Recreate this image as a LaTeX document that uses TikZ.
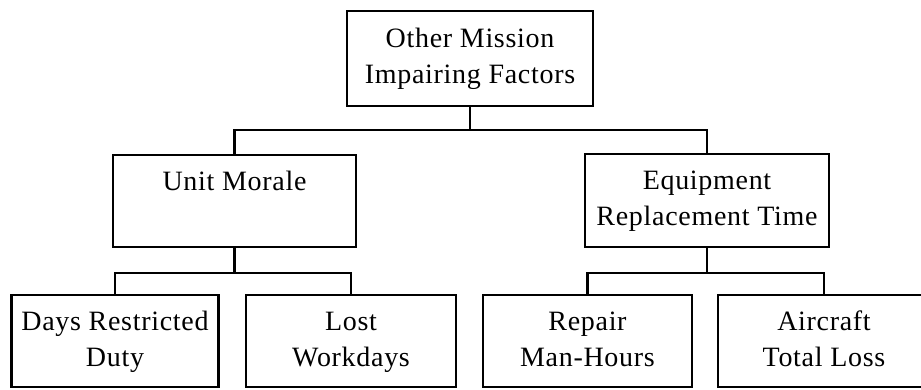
\documentclass[tikz,border=0pt]{standalone}
\usepackage{fontspec}
\setmainfont{Liberation Serif}[LetterSpace=2.5]
\begin{document}
\begin{tikzpicture}[x=1pt,y=-1pt,
  box/.style={draw=black,line width=2.8pt,fill=white,inner sep=0pt,align=center,
    font=\fontsize{28}{36}\selectfont},
  conn/.style={draw=black,line width=2.4pt}]
\useasboundingbox (0,0) rectangle (921,390);
\clip (0,0) rectangle (921,390);
\fill[white] (0,0) rectangle (921,390);
\node[box,minimum width=246pt,minimum height=95pt] (top) at (470,58.5) {\strut Other Mission\\Impairing Factors\strut};
\node[box,minimum width=243pt,minimum height=92pt] (um) at (234.5,201) {\strut Unit Morale\\\strut};
\node[box,minimum width=244pt,minimum height=93pt] (eq) at (707,200.5) {\strut Equipment\\Replacement Time\strut};
\node[box,minimum width=207pt,minimum height=92pt] (days) at (115,341) {\strut Days Restricted\\Duty\strut};
\node[box,minimum width=210pt,minimum height=92pt] (lost) at (351,341) {\strut Lost\\Workdays\strut};
\node[box,minimum width=209pt,minimum height=92pt] (rep) at (587.5,341) {\strut Repair\\Man-Hours\strut};
\node[box,minimum width=212pt,minimum height=92pt] (air) at (824,341) {\strut Aircraft\\Total Loss\strut};
\coordinate (j1) at (470,130);
\coordinate (j2) at (234.5,273);
\coordinate (j3) at (707,273);
\draw[conn] (top.south) -- (j1);
\draw[conn] (um.north) |- (j1) -| (eq.north);
\draw[conn] (um.south) -- (j2);
\draw[conn] (days.north) |- (j2) -| (lost.north);
\draw[conn] (eq.south) -- (j3);
\draw[conn] (rep.north) |- (j3) -| (air.north);
\end{tikzpicture}
\end{document}
